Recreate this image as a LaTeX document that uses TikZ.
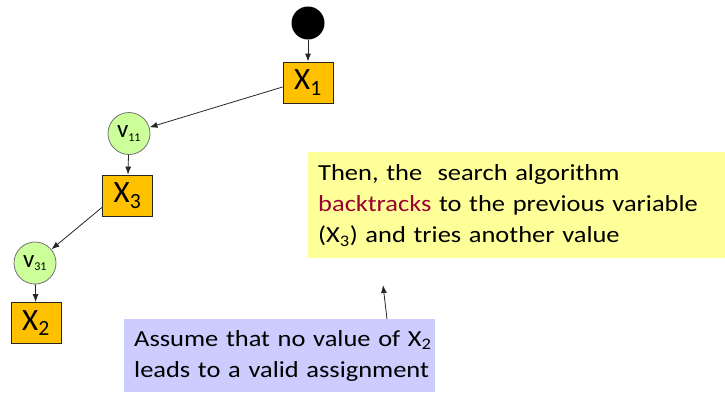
\documentclass[tikz,border=0pt]{standalone}
\usepackage{fontspec}
\setmainfont{Carlito}
\newfontfamily\notefont[FakeStretch=1.15]{Carlito}
\usetikzlibrary{arrows.meta}
\definecolor{xgold}{HTML}{FFC000}
\definecolor{vgreen}{HTML}{CCFF99}
\definecolor{ynote}{HTML}{FFFF99}
\definecolor{pnote}{HTML}{CCCCFF}
\definecolor{btred}{HTML}{990033}
\hfuzz=50pt
\tikzset{
  xbox/.style={draw=black!85, line width=0.8pt, fill=xgold, minimum width=50pt, minimum height=41pt, inner sep=0pt, font=\fontsize{31}{33}\selectfont},
  vcirc/.style={circle, draw=black!55, line width=0.8pt, fill=vgreen, minimum size=42pt, inner sep=0pt, font=\fontsize{25}{27}\selectfont},
  arr/.style={draw=black!85, line width=0.8pt, -{Latex[length=8pt,width=6pt]}},
  note/.style={anchor=north west, align=left, inner ysep=0pt, font=\notefont\fontsize{23}{31}\selectfont}
}
\newcommand{\vsub}[1]{\textsubscript{\fontsize{12}{12}\selectfont #1}}
\begin{document}
\begin{tikzpicture}[x=1pt,y=-1pt]
\useasboundingbox (0,0) rectangle (725,392);
\node[circle, fill=black, minimum size=33pt, inner sep=0pt] (s) at (308,23) {};
\node[xbox] (x1) at (308,82.5) {X\textsubscript{1}};
\node[vcirc] (v11) at (129,133.5) {v\vsub{11}};
\node[xbox] (x3) at (127.5,195.5) {X\textsubscript{3}};
\node[vcirc] (v31) at (35,263) {v\vsub{31}};
\node[xbox] (x2) at (36,323) {X\textsubscript{2}};
\draw[arr] (s) -- (x1);
\draw[arr] (x1.190) -- (v11);
\draw[arr] (v11) -- (x3);
\draw[arr] (x3.205) -- (v31);
\draw[arr] (v31) -- (x2);
\node[note, fill=ynote, text width=397pt, inner xsep=10pt, minimum height=106pt] (yn) at (308,152)
  {Then, the\ \ search algorithm\\ \textcolor{btred}{backtracks} to the previous variable\\ (X\textsubscript{3}) and tries another value};
\node[note, fill=pnote, text width=291pt, inner xsep=10pt, minimum height=73pt] (pn) at (124,319)
  {\mbox{Assume that no value of X\textsubscript{2}}\\ \mbox{leads to a valid assignment}};
\coordinate (tip) at (383,285);
\draw[arr] (pn.north west -| 387,0) -- (tip);
\end{tikzpicture}
\end{document}
